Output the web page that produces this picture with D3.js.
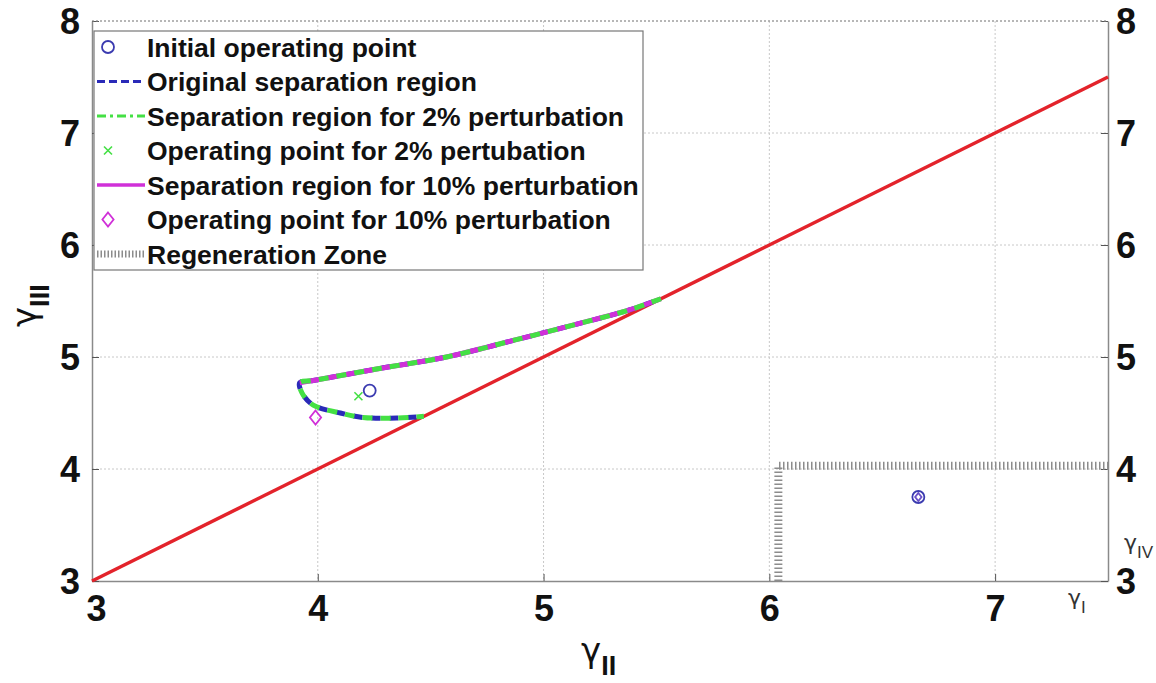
<!DOCTYPE html>
<html>
<head>
<meta charset="utf-8">
<script src="https://cdn.jsdelivr.net/npm/d3@7"></script>
<style>
  html, body { margin: 0; padding: 0; background: #fff; }
  svg { display: block; font-family: "Liberation Sans", Arial, sans-serif; }
</style>
</head>
<body>
<svg id="chart" width="1156" height="683"></svg>
<script>
// Axis ranges and tick values
const xDomain = [3, 7.5];
const yDomain = [3, 8];
const xTicks = [3, 4, 5, 6, 7];
const yTicks = [3, 4, 5, 6, 7, 8];

// Boundary line gamma_III = gamma_II
const diagX = [3, 7.5];
const diagY = [3, 7.5];

// Original separation region boundary (upper branch from the tip leftwards, then lower branch)
const regionX = [5.52, 5.38, 5.16, 4.87, 4.57, 4.28, 3.98, 3.92, 3.93, 3.98, 4.10, 4.20, 4.35, 4.47];
const regionY = [5.52, 5.42, 5.30, 5.15, 5.00, 4.90, 4.79, 4.77, 4.68, 4.57, 4.50, 4.46, 4.455, 4.47];

// Separation region for 2% perturbation
const region2X = [5.52, 5.38, 5.16, 4.87, 4.57, 4.28, 3.98, 3.92, 3.93, 3.98, 4.10, 4.20, 4.35, 4.47];
const region2Y = [5.52, 5.42, 5.30, 5.15, 5.00, 4.90, 4.79, 4.77, 4.68, 4.57, 4.50, 4.46, 4.455, 4.47];

// Separation region for 10% perturbation (upper boundary)
const region10X = [5.52, 5.38, 5.16, 4.87, 4.57, 4.28, 3.98, 3.92];
const region10Y = [5.52, 5.42, 5.30, 5.15, 5.00, 4.90, 4.79, 4.77];

// Operating points
const initialPoint = [4.23, 4.70];
const point2 = [4.18, 4.65];
const point10 = [3.99, 4.46];
// Operating point on the (gamma_I, gamma_IV) axes
const pointIV = [6.66, 3.75];

// Regeneration zone boundary on the (gamma_I, gamma_IV) axes
const regenX = [6.04, 6.04, 7.5];
const regenY = [3, 4.03, 4.03];

const legendLabels = [
  "Initial operating point",
  "Original separation region",
  "Separation region for 2% perturbation",
  "Operating point for 2% pertubation",
  "Separation region for 10% perturbation",
  "Operating point for 10% perturbation",
  "Regeneration Zone"
];

const C = {
  blue: "#2a2ab8",
  circle: "#3b3bb0",
  green: "#44e044",
  magenta: "#d030d8",
  red: "#e3232b",
  axis: "#8a8a8a",
  grid: "#c8c8c8",
  regen: "#8c8c8c"
};

const svg = d3.select("#chart");
const L = 92, R = 1108, T = 21, B = 581;
const x = d3.scaleLinear(xDomain, [L, R]);
const y = d3.scaleLinear(yDomain, [B, T]);

// Grid
const grid = svg.append("g");
grid.selectAll(".gx").data(xTicks.filter(d => d > 3)).join("line")
  .attr("x1", d => x(d)).attr("x2", d => x(d)).attr("y1", T).attr("y2", B)
  .attr("stroke", C.grid).attr("stroke-width", 1).attr("stroke-dasharray", "2,2");
grid.selectAll(".gy").data(yTicks.filter(d => d > 3)).join("line")
  .attr("x1", L).attr("x2", R).attr("y1", d => y(d)).attr("y2", d => y(d))
  .attr("stroke", C.grid).attr("stroke-width", 1).attr("stroke-dasharray", "2,2");

// Axes
const tickFont = g => g.selectAll("text")
  .attr("font-size", 36).attr("font-weight", "bold").attr("fill", "#111")
  .attr("font-family", "'Liberation Sans', Arial, sans-serif");

const xAxis = svg.append("g").attr("transform", `translate(0,${B})`)
  .call(d3.axisBottom(x).tickValues(xTicks).tickFormat(d3.format("d")).tickSizeInner(-7).tickSizeOuter(0).tickPadding(14));
xAxis.select(".domain").attr("stroke", C.axis).attr("stroke-width", 1.5);
xAxis.selectAll(".tick line").attr("stroke", "#555");
xAxis.call(tickFont);
xAxis.selectAll("text").attr("dy", "0.71em").attr("dx", d => d === 3 ? 4 : 0);

const yAxis = svg.append("g").attr("transform", `translate(${L},0)`)
  .call(d3.axisLeft(y).tickValues(yTicks).tickFormat(d3.format("d")).tickSizeInner(-7).tickSizeOuter(0).tickPadding(12));
yAxis.select(".domain").attr("stroke", C.axis).attr("stroke-width", 1.5);
yAxis.selectAll(".tick line").attr("stroke", "#555");
yAxis.call(tickFont);
yAxis.selectAll("text").attr("dy", "0.35em");

const yAxisR = svg.append("g").attr("transform", `translate(${R},0)`)
  .call(d3.axisRight(y).tickValues(yTicks).tickFormat(d3.format("d")).tickSizeInner(-7).tickSizeOuter(0).tickPadding(8));
yAxisR.select(".domain").attr("stroke", C.axis).attr("stroke-width", 1.5);
yAxisR.selectAll(".tick line").attr("stroke", "#555");
yAxisR.call(tickFont);
yAxisR.selectAll("text").attr("dy", "0.35em");

// Top border
svg.append("line").attr("x1", L).attr("x2", R).attr("y1", T).attr("y2", T)
  .attr("stroke", C.axis).attr("stroke-width", 1).attr("stroke-dasharray", "2,2");

const line = d3.line().x(d => x(d[0])).y(d => y(d[1]));
const curve = d3.line().x(d => x(d[0])).y(d => y(d[1])).curve(d3.curveCatmullRom.alpha(0.5));
const pts = (xs, ys) => xs.map((v, i) => [v, ys[i]]);

// Regeneration zone
svg.append("path").datum(pts(regenX, regenY))
  .attr("d", line).attr("fill", "none").attr("stroke", C.regen)
  .attr("stroke-width", 8).attr("stroke-dasharray", "1.5,2.5");

// Diagonal boundary
svg.append("path").datum(pts(diagX, diagY))
  .attr("d", line).attr("fill", "none").attr("stroke", C.red).attr("stroke-width", 3.5);

// Separation regions
svg.append("path").datum(pts(regionX, regionY)).attr("d", curve).attr("fill", "none")
  .attr("stroke", C.blue).attr("stroke-width", 5).attr("stroke-dasharray", "9,9").attr("stroke-dashoffset", 9);
svg.append("path").datum(pts(region10X, region10Y)).attr("d", curve).attr("fill", "none")
  .attr("stroke", C.magenta).attr("stroke-width", 5);
svg.append("path").datum(pts(region2X, region2Y)).attr("d", curve).attr("fill", "none")
  .attr("stroke", C.green).attr("stroke-width", 5).attr("stroke-dasharray", "10,8");

// Markers
function circleMark(g, cx, cy, color) {
  g.append("circle").attr("cx", cx).attr("cy", cy).attr("r", 6)
    .attr("fill", "none").attr("stroke", color).attr("stroke-width", 1.8);
}
function crossMark(g, cx, cy, color) {
  const s = 4;
  g.append("path").attr("d", `M${cx - s},${cy - s}L${cx + s},${cy + s}M${cx - s},${cy + s}L${cx + s},${cy - s}`)
    .attr("stroke", color).attr("stroke-width", 1.6);
}
function diamondMark(g, cx, cy, color, s = 7) {
  g.append("path").attr("d", `M${cx},${cy - s}L${cx + s * 0.8},${cy}L${cx},${cy + s}L${cx - s * 0.8},${cy}Z`)
    .attr("fill", "none").attr("stroke", color).attr("stroke-width", 1.8);
}

const marks = svg.append("g");
circleMark(marks, x(initialPoint[0]), y(initialPoint[1]), C.circle);
crossMark(marks, x(point2[0]), y(point2[1]), C.green);
diamondMark(marks, x(point10[0]), y(point10[1]), C.magenta);
circleMark(marks, x(pointIV[0]), y(pointIV[1]), C.circle);
diamondMark(marks, x(pointIV[0]), y(pointIV[1]), "#6a50c8", 4);

// Legend
const lg = svg.append("g");
const lgX = 94, lgY = 31, lgW = 549, lgH = 239, rowH = 34.5, firstRow = 47;
lg.append("rect").attr("x", lgX).attr("y", lgY).attr("width", lgW).attr("height", lgH)
  .attr("fill", "#fff").attr("stroke", "#777").attr("stroke-width", 1.2);
legendLabels.forEach((label, i) => {
  const cy = firstRow + i * rowH;
  const sx = 108;
  if (i === 0) circleMark(lg, sx, cy, C.circle);
  if (i === 1) lg.append("line").attr("x1", 97).attr("x2", 145).attr("y1", cy).attr("y2", cy)
    .attr("stroke", C.blue).attr("stroke-width", 3).attr("stroke-dasharray", "8,4");
  if (i === 2) lg.append("line").attr("x1", 97).attr("x2", 145).attr("y1", cy).attr("y2", cy)
    .attr("stroke", C.green).attr("stroke-width", 3).attr("stroke-dasharray", "9,4,3,4");
  if (i === 3) crossMark(lg, sx, cy, C.green);
  if (i === 4) lg.append("line").attr("x1", 97).attr("x2", 145).attr("y1", cy).attr("y2", cy)
    .attr("stroke", C.magenta).attr("stroke-width", 3.5);
  if (i === 5) diamondMark(lg, sx, cy, C.magenta);
  if (i === 6) lg.append("line").attr("x1", 97).attr("x2", 145).attr("y1", cy).attr("y2", cy)
    .attr("stroke", C.regen).attr("stroke-width", 7).attr("stroke-dasharray", "1.5,2");
  lg.append("text").attr("x", 147).attr("y", cy).attr("dy", "0.36em")
    .attr("font-size", 26.5).attr("font-weight", "bold").attr("fill", "#111").text(label);
});

// Axis titles: a gamma glyph followed by a roman-numeral subscript
function gammaLabel(g, sub, size, subSize, gWeight, sWeight, sFamily) {
  const t = g.append("text").attr("fill", "#111");
  t.append("tspan").attr("font-size", size).attr("font-weight", gWeight)
    .attr("font-family", "'DejaVu Sans', sans-serif").text("γ");
  t.append("tspan").attr("font-size", subSize).attr("font-weight", sWeight)
    .attr("font-family", sFamily).attr("dy", size * 0.38).text(sub);
  return t;
}
gammaLabel(svg.append("g").attr("transform", "translate(581,662)"), "II", 34, 27, "normal", "bold", "'Liberation Sans', Arial, sans-serif");
gammaLabel(svg.append("g").attr("transform", "translate(36,327) rotate(-90)"), "III", 34, 27, "normal", "bold", "'Liberation Sans', Arial, sans-serif");
gammaLabel(svg.append("g").attr("transform", "translate(1124,550)"), "IV", 22, 17, "normal", "normal", "'Liberation Sans Narrow', 'Liberation Sans', sans-serif")
  .attr("fill", "#333");
gammaLabel(svg.append("g").attr("transform", "translate(1068,605)"), "I", 22, 17, "normal", "normal", "'Liberation Sans Narrow', 'Liberation Sans', sans-serif")
  .attr("fill", "#333");
</script>
</body>
</html>
